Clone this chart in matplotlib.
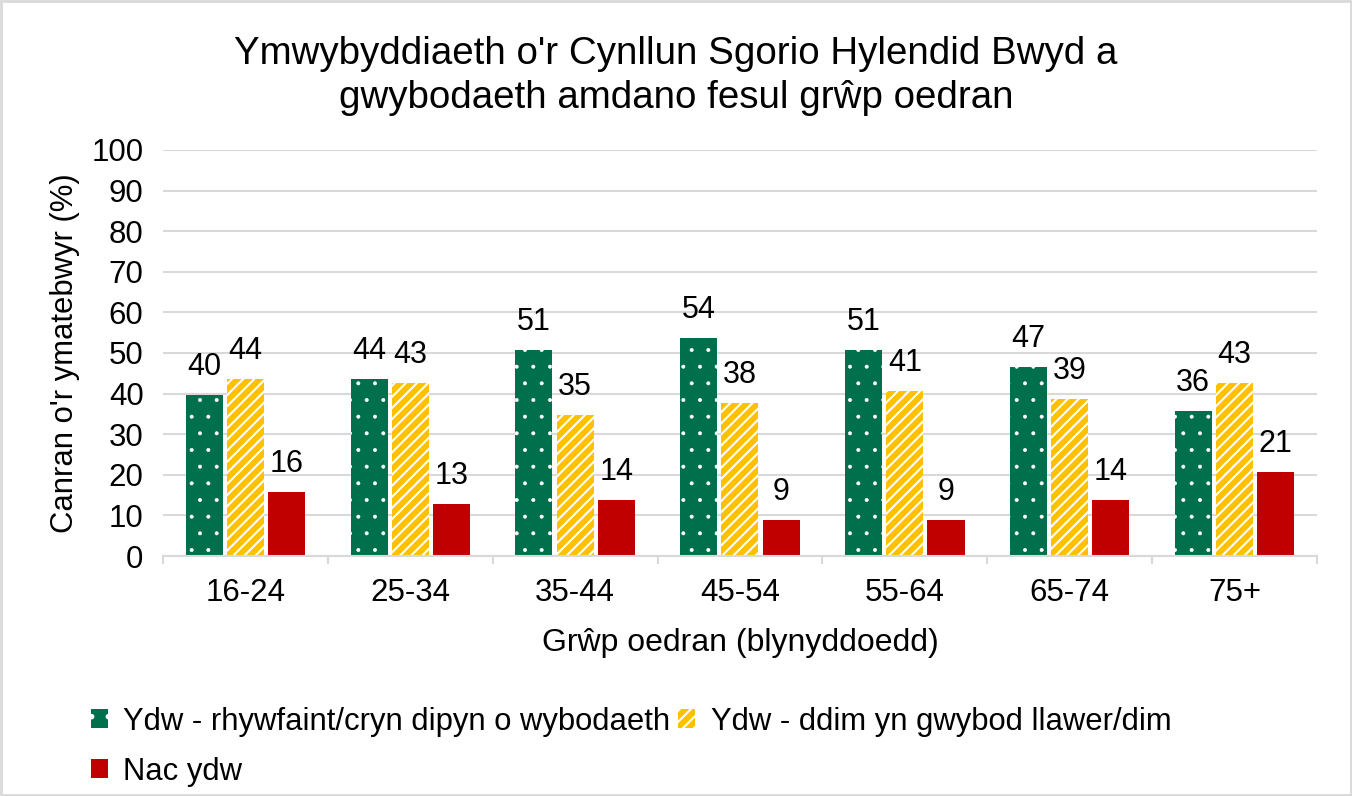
import numpy as np
import matplotlib
matplotlib.use('Agg')
import matplotlib.pyplot as plt
from matplotlib.patches import Rectangle

plt.rcParams['font.family'] = ['Liberation Sans', 'DejaVu Sans']
plt.rcParams['hatch.linewidth'] = 1.5

groups = ['16-24', '25-34', '35-44', '45-54', '55-64', '65-74', '75+']
series = ['Ydw - rhywfaint/cryn dipyn o wybodaeth',
          'Ydw - ddim yn gwybod llawer/dim',
          'Nac ydw']
ydw_gwybod = [39.7, 43.6, 50.7, 53.7, 50.7, 46.6, 35.7]
ydw_ddim = [43.6, 42.6, 34.7, 37.7, 40.6, 38.7, 42.6]
nac_ydw = [15.8, 12.8, 13.8, 8.9, 8.9, 13.8, 20.7]

colors = ['#00704C', '#FFC000', '#C00000']
hatches = ['.', '///', None]
hatch_lw = [0.4, 1.5, 1.0]

fig = plt.figure(figsize=(13.52, 7.96), dpi=100)
ax = fig.add_axes([0.1206, 0.3015, 0.8534, 0.5101])

x = np.arange(len(groups))
w = 0.225
offsets = [-0.25, 0, 0.25]
handles = []
for vals, off, c, h, hl, name in zip([ydw_gwybod, ydw_ddim, nac_ydw], offsets, colors, hatches, hatch_lw, series):
    if h:
        bars = ax.bar(x + off, vals, w, color=c, edgecolor='white', linewidth=0, hatch=h, label=name)
        for b in bars:
            if hasattr(b, 'set_hatch_linewidth'):
                b.set_hatch_linewidth(hl)
    else:
        bars = ax.bar(x + off, vals, w, color=c, linewidth=0, label=name)
    handles.append(bars)
    for b, v in zip(bars, vals):
        ax.annotate(f'{v:.0f}', (b.get_x() + b.get_width() / 2, v), xytext=(0, 9.5),
                    textcoords='offset points', ha='center', va='bottom', fontsize=22)

ax.set_xlim(-0.5, len(groups) - 0.5)
ax.set_ylim(0, 100)
ax.set_yticks(range(0, 101, 10))
ax.set_xticks(x)
ax.set_xticklabels(groups)
ax.set_xticks(np.arange(-0.5, len(groups), 1), minor=True)
ax.tick_params(axis='x', which='major', length=0, labelsize=22.5, pad=16)
ax.tick_params(axis='x', which='minor', length=6, color='#d9d9d9', width=1.5)
ax.tick_params(axis='y', length=0, labelsize=22.5, pad=14)
ax.grid(axis='y', color='#d9d9d9', linewidth=1.5)
ax.set_axisbelow(True)
for s in ['top', 'right', 'left']:
    ax.spines[s].set_visible(False)
ax.spines['bottom'].set_color('#d9d9d9')
ax.spines['bottom'].set_linewidth(1.5)

ax.set_ylabel("Canran o'r ymatebwyr (%)", fontsize=22.3, labelpad=8)
ax.set_xlabel('Grŵp oedran (blynyddoedd)', fontsize=23, labelpad=14)
fig.suptitle("Ymwybyddiaeth o'r Cynllun Sgorio Hylendid Bwyd a\ngwybodaeth amdano fesul grŵp oedran",
             fontsize=27.7, y=0.955, linespacing=1.3)

fig.legend([handles[0], handles[2], handles[1]], [series[0], series[2], series[1]],
           loc='upper left', bbox_to_anchor=(0.058, 0.128), ncol=2, frameon=False,
           fontsize=22.3, handlelength=0.55, handleheight=0.55, handletextpad=0.5,
           columnspacing=0.25, labelspacing=0.65, borderaxespad=0)

fig.patches.append(Rectangle((0.001, 0.001), 0.998, 0.998, transform=fig.transFigure,
                             fill=False, edgecolor='#d9d9d9', linewidth=2))

fig.savefig('out.png', dpi=100)
